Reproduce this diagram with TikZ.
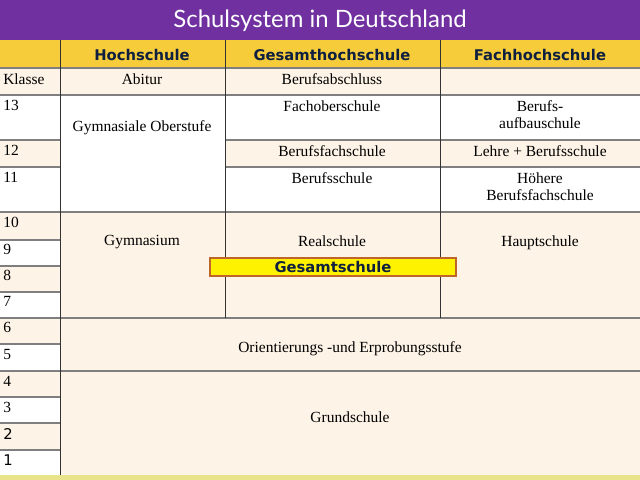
\documentclass[tikz,border=0pt]{standalone}
\usepackage{fontspec}
\setmainfont{Liberation Serif}
\newfontfamily\headfont{DejaVu Sans}
\newfontfamily\titlefont{Lato}
\usepackage{xcolor}
\definecolor{titlebg}{HTML}{7030A0}
\definecolor{headbg}{HTML}{F6CC3A}
\definecolor{cream}{HTML}{FDF3E6}
\definecolor{gridline}{HTML}{7F7F7F}
\definecolor{headtext}{HTML}{0F1F3F}
\definecolor{boxline}{HTML}{C0652A}
\tikzset{cell/.style={font=\fontsize{11}{12.5}\selectfont, text centered, anchor=north, inner sep=0pt},
  klasse/.style={font=\fontsize{11}{12.5}\selectfont, anchor=north west, inner sep=0pt},
  head/.style={font=\headfont\bfseries\fontsize{10.5}{12}\selectfont, text=headtext, inner sep=0pt}}
\begin{document}
\begin{tikzpicture}[x=0.025cm, y=-0.025cm]
    \useasboundingbox (0,0) rectangle (640,480);
    % backgrounds
    \fill[white] (0,0) rectangle (640,480);
    \fill[titlebg] (0,0) rectangle (640,40);
    \fill[headbg] (0,40) rectangle (640,68);
    \fill[cream] (0,68) rectangle (640,95);
    \fill[cream] (225,140) rectangle (640,167);
    \fill[cream] (60,212) rectangle (640,475);
    \foreach \ya/\yb in {68/95, 140/167, 212/240, 266/292, 318/344, 371/397, 423/450}
        \fill[cream] (0,\ya) rectangle (60,\yb);
    \fill[yellow!50!olive!40] (0,475) rectangle (640,480);
    % grid
    \draw[gridline, line width=0.8pt] (0,68) -- (640,68) (0,95) -- (640,95)
        (0,140) -- (60,140) (225,140) -- (640,140) (0,167) -- (60,167) (225,167) -- (640,167)
        (0,212) -- (640,212) (0,318) -- (640,318) (0,371) -- (640,371);
    \foreach \y in {240,266,292,344,397,423,450}
        \draw[gridline, line width=0.8pt] (0,\y) -- (60,\y);
    \draw[black!80, line width=0.6pt] (60,40) -- (60,475) (225,40) -- (225,318) (440,40) -- (440,318);
    % title and header
    \node[font=\titlefont\fontsize{17}{20}\selectfont, text=white] (title) at (320,21) {Schulsystem in Deutschland};
    \node[head] (hoch) at (142,55) {Hochschule};
    \node[head] (gesamt) at (332,55) {Gesamthochschule};
    \node[head] (fach) at (540,55) {Fachhochschule};
    % Klasse column
    \node[klasse] (kl) at (3,73) {Klasse};
    \foreach \k/\y in {13/100, 12/145, 11/172, 10/217, 9/244, 8/270, 7/296, 6/322, 5/349, 4/376, 3/402}
        \node[klasse] (k\k) at (3,\y) {\k};
    \node[klasse, font=\headfont\fontsize{10.5}{12}\selectfont] (k2) at (3,428) {2};
    \node[klasse, font=\headfont\fontsize{10.5}{12}\selectfont] (k1) at (3,454) {1};
    % cells
    \node[cell] (abitur) at (142,73) {Abitur};
    \node[cell] (abschluss) at (332,73) {Berufsabschluss};
    \node[cell] (oberstufe) at (142,120) {Gymnasiale Oberstufe};
    \node[cell] (fachober) at (332,100) {Fachoberschule};
    \node[cell, text width=8em] (aufbau) at (540,100) {Berufs-\\aufbauschule};
    \node[cell] (bfs) at (332,145) {Berufsfachschule};
    \node[cell] (lehre) at (540,145) {Lehre + Berufsschule};
    \node[cell] (bs) at (332,172) {Berufsschule};
    \node[cell, text width=8em] (hbfs) at (540,172) {Höhere\\Berufsfachschule};
    \node[cell] (gym) at (142,235) {Gymnasium};
    \node[cell] (real) at (332,235) {Realschule};
    \node[cell] (haupt) at (540,235) {Hauptschule};
    \node[cell] (orient) at (350,341) {Orientierungs -und Erprobungsstufe};
    \node[cell] (grund) at (350,411) {Grundschule};
    % Gesamtschule box
    \node[head, fill=yellow, draw=boxline, line width=1.5pt, minimum width=6.15cm, minimum height=0.47cm] (gs) at (333,267) {Gesamtschule};
\end{tikzpicture}
\end{document}
